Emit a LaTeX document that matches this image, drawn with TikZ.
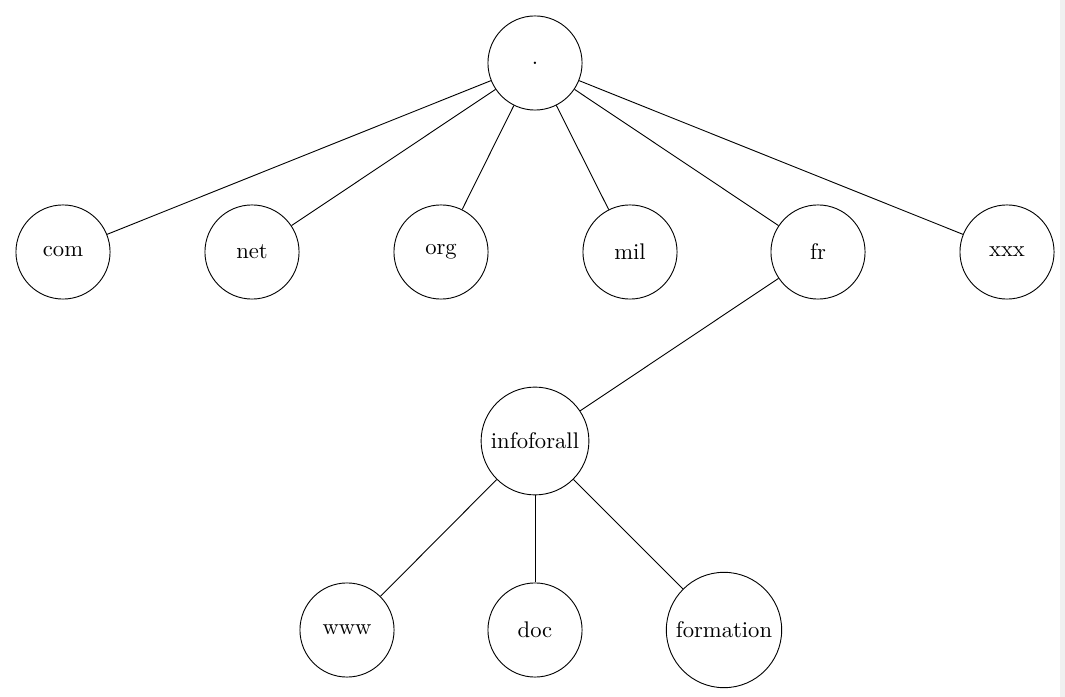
\documentclass[tikz,border=0pt]{standalone}
\begin{document}
\begin{tikzpicture}[x=0.442pt,y=-0.442pt,
  dnode/.style={draw,circle,minimum size=41.6pt,inner sep=0.3333em}]
\useasboundingbox (0,0) rectangle (1065,697);
\fill[gray!12] (1060,0) rectangle (1065,697);
\node[dnode] (root) at (535,63) {.};
\node[dnode] (com) at (63,252) {com};
\node[dnode] (net) at (252,252) {net};
\node[dnode] (org) at (441,252) {org};
\node[dnode] (mil) at (630,252) {mil};
\node[dnode] (fr) at (818,252) {fr};
\node[dnode] (xxx) at (1007,252) {xxx};
\node[dnode] (info) at (535,441) {infoforall};
\node[dnode] (www) at (347,630) {www};
\node[dnode] (doc) at (535,630) {doc};
\node[dnode] (form) at (724,630) {formation};
\foreach \c in {com,net,org,mil,fr,xxx} \draw (root) -- (\c);
\draw (fr) -- (info);
\foreach \c in {www,doc,form} \draw (info) -- (\c);
\end{tikzpicture}
\end{document}
